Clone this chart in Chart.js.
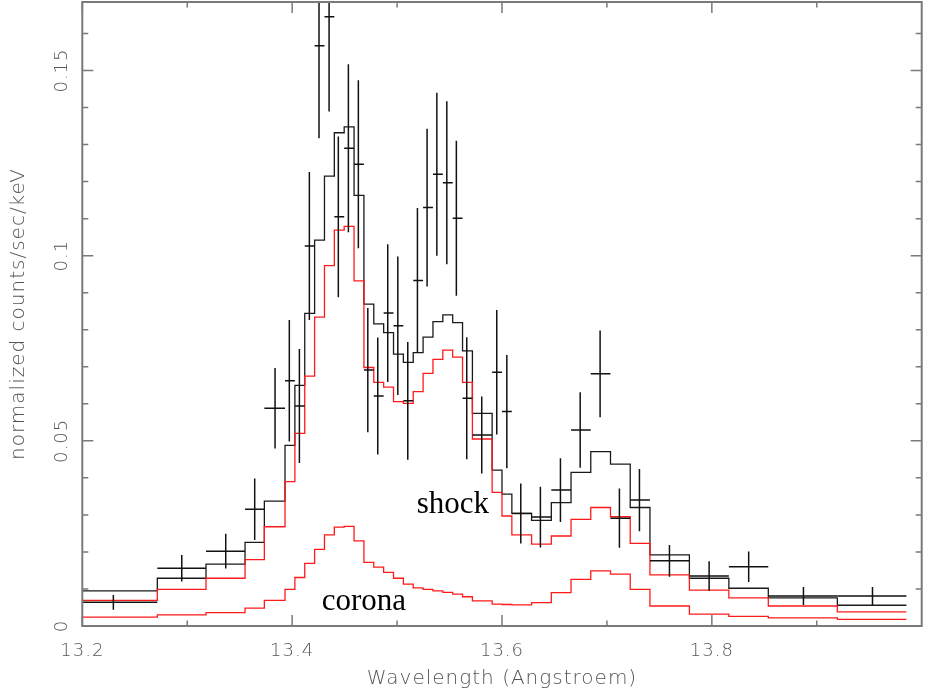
<!DOCTYPE html>
<html>
<head>
<meta charset="utf-8">
<script src="https://cdn.jsdelivr.net/npm/chart.js@4.4.1/dist/chart.umd.min.js"></script>
<style>
  html, body { margin: 0; padding: 0; background: #fff; }
  #spec { display: block; }
</style>
</head>
<body>
<canvas id="spec" width="925" height="692"></canvas>
<script>
// grouped bin edges (Angstroem), first bin starts left of the plot
const binEdges = [13.1877, 13.2715, 13.3179, 13.3551, 13.3735, 13.3932, 13.4026, 13.4120, 13.4214, 13.4308,
  13.4402, 13.4496, 13.4590, 13.4684, 13.4778, 13.4872, 13.4966, 13.5060, 13.5154, 13.5248,
  13.5342, 13.5436, 13.5530, 13.5624, 13.5718, 13.5906, 13.6000, 13.6094, 13.6282, 13.6470,
  13.6658, 13.6846, 13.7034, 13.7222, 13.7410, 13.7786, 13.8162, 13.8538, 13.9196, 13.9854];

// model per bin
const totalModel = [0.0095, 0.0129, 0.0167, 0.0226, 0.0337, 0.0488, 0.0650, 0.0844, 0.1042, 0.1215,
  0.1332, 0.1348, 0.1163, 0.0869, 0.0816, 0.0792, 0.0734, 0.0712, 0.0738, 0.0780,
  0.0822, 0.0840, 0.0819, 0.0743, 0.0574, 0.0421, 0.0356, 0.0304, 0.0285, 0.0333,
  0.0415, 0.0471, 0.0437, 0.0320, 0.0192, 0.0129, 0.0102, 0.0076, 0.0056];
const shockModel = [0.0069, 0.0099, 0.0129, 0.0179, 0.0268, 0.0390, 0.0520, 0.0675, 0.0834, 0.0973,
  0.1069, 0.1079, 0.0932, 0.0698, 0.0658, 0.0645, 0.0606, 0.0601, 0.0633, 0.0682,
  0.0720, 0.0745, 0.0726, 0.0658, 0.0505, 0.0361, 0.0297, 0.0246, 0.0221, 0.0243,
  0.0288, 0.0320, 0.0295, 0.0223, 0.0138, 0.0097, 0.0076, 0.0054, 0.0038];
const coronaModel = [0.0024, 0.0030, 0.0036, 0.0048, 0.0069, 0.0099, 0.0131, 0.0169, 0.0207, 0.0246,
  0.0267, 0.0269, 0.0230, 0.0172, 0.0159, 0.0145, 0.0129, 0.0113, 0.0103, 0.0099,
  0.0095, 0.0091, 0.0086, 0.0079, 0.0068, 0.0059, 0.0058, 0.0057, 0.0063, 0.0090,
  0.0126, 0.0149, 0.0140, 0.0099, 0.0054, 0.0032, 0.0026, 0.0022, 0.0018];

// measured points
const dataX = [13.2296, 13.2948, 13.3367, 13.3643, 13.3837, 13.3973, 13.4069, 13.4164, 13.4256, 13.4352,
  13.4440, 13.4536, 13.4631, 13.4721, 13.4816, 13.4911, 13.5007, 13.5102, 13.5194, 13.5286,
  13.5379, 13.5474, 13.5565, 13.5664, 13.5807, 13.5950, 13.6046, 13.6179, 13.6366, 13.6557,
  13.6745, 13.6935, 13.7119, 13.7310, 13.7596, 13.7974, 13.8351, 13.8873, 13.9531];
const dataY = [0.0064, 0.0156, 0.0202, 0.0315, 0.0588, 0.0662, 0.0594, 0.1026, 0.1567, 0.1645,
  0.1105, 0.1290, 0.1247, 0.0691, 0.0621, 0.0845, 0.0811, 0.0608, 0.0933, 0.1130,
  0.1220, 0.1197, 0.1101, 0.0615, 0.0516, 0.0685, 0.0579, 0.0304, 0.0294, 0.0367,
  0.0529, 0.0681, 0.0291, 0.0340, 0.0176, 0.0135, 0.0160, 0.0081, 0.0081];
const dataErr = [0.0020, 0.0036, 0.0047, 0.0083, 0.0109, 0.0164, 0.0154, 0.0200, 0.0250, 0.0256,
  0.0217, 0.0227, 0.0227, 0.0168, 0.0158, 0.0186, 0.0187, 0.0159, 0.0196, 0.0213,
  0.0220, 0.0220, 0.0209, 0.0165, 0.0104, 0.0168, 0.0153, 0.0081, 0.0082, 0.0086,
  0.0102, 0.0117, 0.0080, 0.0084, 0.0043, 0.0040, 0.0041, 0.0024, 0.0024];

const xMajorTicks = [13.2, 13.4, 13.6, 13.8];
const xMinorTicks = [13.3, 13.5, 13.7, 13.9];
const yMajorTicks = [0, 0.05, 0.1, 0.15];
const yTickLabels = ['0', '0.05', '0.1', '0.15'];
const yMinorTicks = [0.01, 0.02, 0.03, 0.04, 0.06, 0.07, 0.08, 0.09, 0.11, 0.12, 0.13, 0.14, 0.16];

const componentLabels = [
  { text: 'shock', x: 13.5188, y: 0.0304 },
  { text: 'corona', x: 13.4282, y: 0.0043 }
];

const axisGray = '#7a7a7a';
const textGray = '#555';
const labelFont = 'DejaVu Sans';

// histogram outline: one point per left edge plus the closing right edge
const stepPoints = (vals) => {
  const pts = vals.map((v, i) => ({ x: binEdges[i], y: v }));
  pts.push({ x: binEdges[vals.length], y: vals[vals.length - 1] });
  return pts;
};

const histo = (label, vals, color) => ({
  type: 'line',
  label: label,
  data: stepPoints(vals),
  stepped: 'before',
  borderColor: color,
  borderWidth: 1.3,
  pointRadius: 0,
  fill: false
});

const framePlugin = {
  id: 'frame',
  beforeDraw(chart) {
    chart.ctx.letterSpacing = '1px';
  },
  afterDatasetsDraw(chart) {
    const { ctx, chartArea: a, scales: { x, y } } = chart;

    // data crosses: bin width horizontally, 1 sigma vertically
    ctx.save();
    ctx.beginPath();
    ctx.rect(a.left, a.top, a.right - a.left, a.bottom - a.top);
    ctx.clip();
    ctx.strokeStyle = '#111';
    ctx.lineWidth = 1.5;
    dataX.forEach((xv, i) => {
      const px = x.getPixelForValue(xv);
      const py = y.getPixelForValue(dataY[i]);
      ctx.beginPath();
      ctx.moveTo(x.getPixelForValue(binEdges[i]), py);
      ctx.lineTo(x.getPixelForValue(binEdges[i + 1]), py);
      ctx.moveTo(px, y.getPixelForValue(dataY[i] + dataErr[i]));
      ctx.lineTo(px, y.getPixelForValue(dataY[i] - dataErr[i]));
      ctx.stroke();
    });
    ctx.restore();

    ctx.save();
    ctx.strokeStyle = axisGray;
    ctx.lineWidth = 2;
    ctx.strokeRect(a.left, a.top, a.right - a.left, a.bottom - a.top);

    // ticks on all four sides, pointing in
    ctx.lineWidth = 1.5;
    ctx.beginPath();
    xMajorTicks.concat(xMinorTicks).forEach(v => {
      const len = xMajorTicks.includes(v) ? 11 : 5.5;
      const px = x.getPixelForValue(v);
      ctx.moveTo(px, a.bottom); ctx.lineTo(px, a.bottom - len);
      ctx.moveTo(px, a.top); ctx.lineTo(px, a.top + len);
    });
    yMajorTicks.concat(yMinorTicks).forEach(v => {
      const len = yMajorTicks.includes(v) ? 11 : 6;
      const py = y.getPixelForValue(v);
      ctx.moveTo(a.left, py); ctx.lineTo(a.left + len, py);
      ctx.moveTo(a.right, py); ctx.lineTo(a.right - len, py);
    });
    ctx.stroke();

    // y tick labels, written upwards
    ctx.fillStyle = textGray;
    ctx.font = '200 18px "' + labelFont + '"';
    ctx.textAlign = 'center';
    ctx.textBaseline = 'middle';
    yMajorTicks.forEach((v, i) => {
      ctx.save();
      ctx.translate(a.left - 20, y.getPixelForValue(v));
      ctx.rotate(-Math.PI / 2);
      ctx.fillText(yTickLabels[i], 0, 0);
      ctx.restore();
    });

    // component names
    ctx.letterSpacing = '0px';
    ctx.fillStyle = '#000';
    ctx.font = '31px "Liberation Serif"';
    ctx.textAlign = 'left';
    ctx.textBaseline = 'alphabetic';
    componentLabels.forEach(l => {
      ctx.fillText(l.text, x.getPixelForValue(l.x), y.getPixelForValue(l.y));
    });
    ctx.restore();
  }
};

new Chart(document.getElementById('spec'), {
  type: 'line',
  data: {
    datasets: [
      histo('corona', coronaModel, '#ff1a1a'),
      histo('shock', shockModel, '#ff1a1a'),
      histo('total', totalModel, '#1a1a1a'),
      {
        type: 'line',
        label: 'data',
        data: dataX.map((v, i) => ({ x: v, y: dataY[i] })),
        showLine: false,
        pointRadius: 0
      }
    ]
  },
  options: {
    responsive: false,
    animation: false,
    devicePixelRatio: 1,
    layout: { padding: { left: 0, right: 3.3, top: 2, bottom: 0 } },
    plugins: { legend: { display: false }, tooltip: { enabled: false } },
    scales: {
      x: {
        type: 'linear',
        min: 13.2,
        max: 14.0,
        afterBuildTicks: s => {
          s.ticks = xMajorTicks.concat(xMinorTicks).sort((p, q) => p - q).map(v => ({ value: v }));
        },
        afterFit: s => { s.height = 66; },
        grid: { display: false },
        border: { display: false },
        ticks: {
          autoSkip: false,
          maxRotation: 0,
          minRotation: 0,
          padding: 7,
          color: textGray,
          font: { family: labelFont, size: 18, weight: 200 },
          callback: v => xMajorTicks.includes(v) ? v.toFixed(1) : ''
        },
        title: {
          display: true,
          text: 'Wavelength (Angstroem)',
          color: textGray,
          font: { family: labelFont, size: 20, weight: 200 },
          padding: { top: 0, bottom: 1 }
        }
      },
      y: {
        min: 0,
        max: 0.1685,
        afterFit: s => { s.width = 82.3; },
        grid: { display: false },
        border: { display: false },
        ticks: { display: false },
        title: {
          display: true,
          text: 'normalized counts/sec/keV',
          color: textGray,
          font: { family: labelFont, size: 20, weight: 200 },
          padding: { top: 7, bottom: 0 }
        }
      }
    }
  },
  plugins: [framePlugin]
});
</script>
</body>
</html>
